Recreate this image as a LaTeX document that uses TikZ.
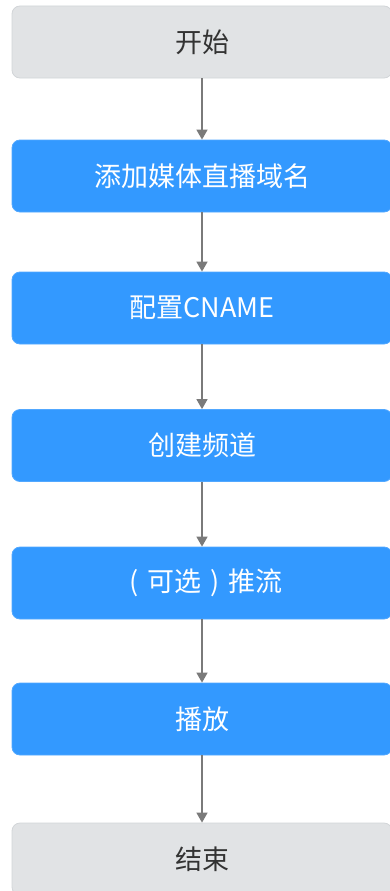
\documentclass[tikz,border=0pt]{standalone}
\usepackage{fontspec}
\newfontfamily\cjk{Noto Sans CJK SC}
\usetikzlibrary{arrows.meta}
\definecolor{boxblue}{HTML}{3399FF}
\definecolor{boxgray}{HTML}{E1E3E5}
\definecolor{graybord}{HTML}{D2D5D8}
\definecolor{arrowgray}{HTML}{7A7A7A}
\definecolor{textgray}{HTML}{333333}
\newcommand{\cpar}[1]{\makebox[1em][c]{#1}}
\tikzset{
  basebox/.style={rounded corners=8pt, minimum width=380pt, minimum height=72pt, inner sep=0pt, font=\cjk\fontsize{27}{31}\selectfont, line width=0.8pt},
  graybox/.style={basebox, fill=boxgray, draw=graybord, text=textgray},
  bluebox/.style={basebox, fill=boxblue, draw=boxblue!85!white, text=white},
  flow/.style={draw=arrowgray, line width=1.6pt, -{Triangle[length=10pt,width=11pt]}}
}
\begin{document}
\begin{tikzpicture}
\useasboundingbox (0,0) rectangle (390pt,-891pt);
\node[graybox] (s) at (202pt,-42pt) {开始};
\node[bluebox] (b1) at (202pt,-176pt) {添加媒体直播域名};
\node[bluebox] (b2) at (202pt,-308pt) {配置CNAME};
\node[bluebox] (b3) at (202pt,-445.5pt) {创建频道};
\node[bluebox] (b4) at (202pt,-583pt) {\cpar{(}可选\cpar{)}推流};
\node[bluebox] (b5) at (202pt,-719pt) {播放};
\node[graybox] (e) at (202pt,-859pt) {结束};
\draw[flow] (s) -- (b1);
\draw[flow] (b1) -- (b2);
\draw[flow] (b2) -- (b3);
\draw[flow] (b3) -- (b4);
\draw[flow] (b4) -- (b5);
\draw[flow] (b5) -- (e);
\end{tikzpicture}
\end{document}
